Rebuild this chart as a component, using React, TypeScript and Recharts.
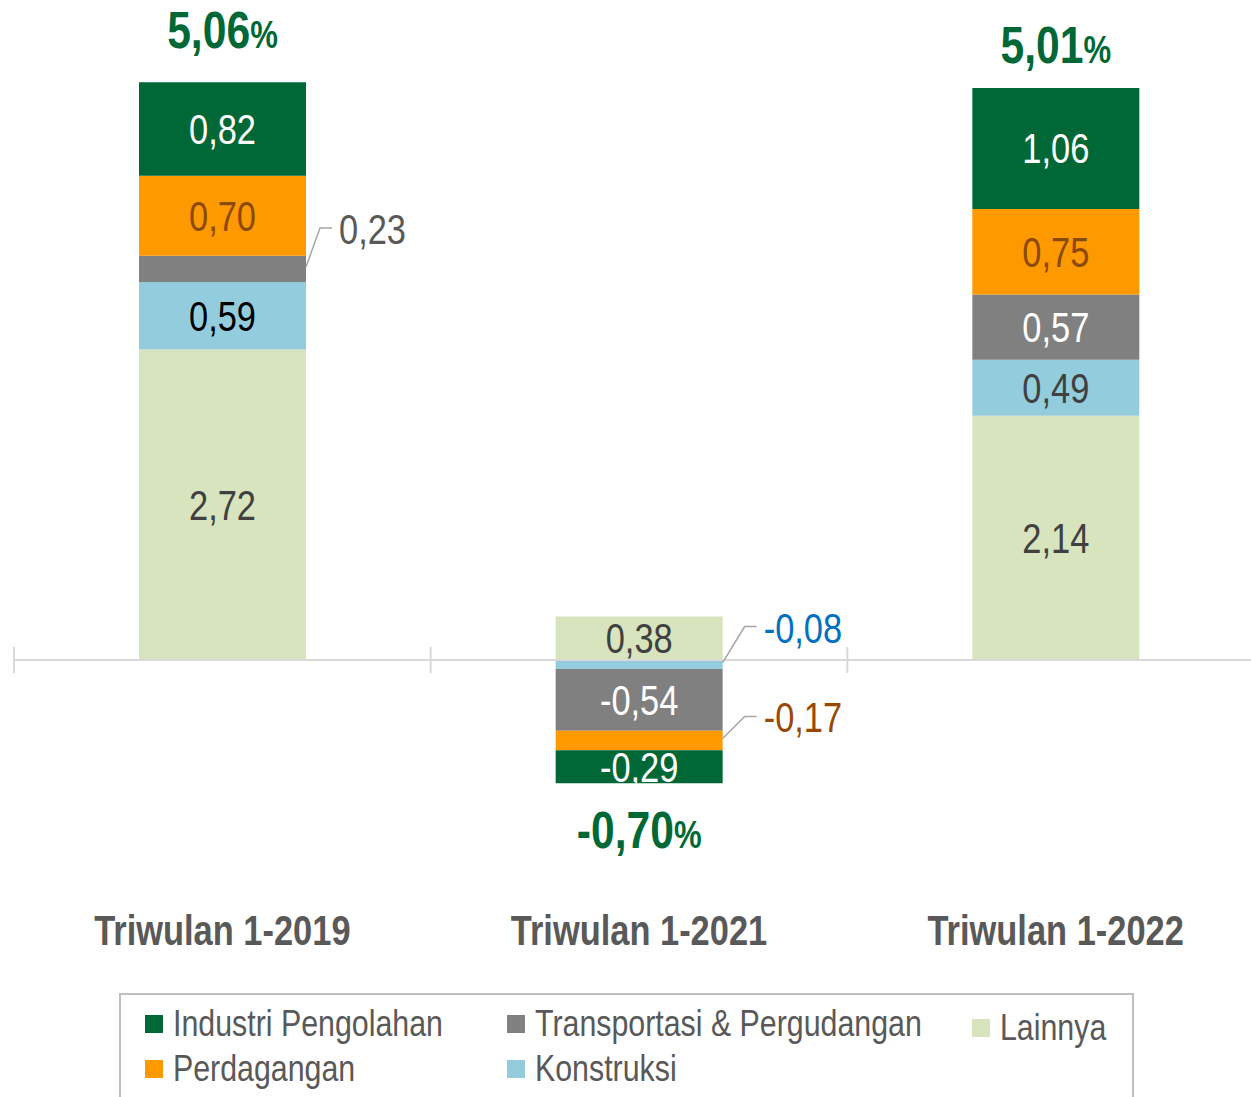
import React from 'react';
import { BarChart, Bar, XAxis, YAxis, ReferenceLine, LabelList, Legend } from 'recharts';

const categories = ['Triwulan 1-2019', 'Triwulan 1-2021', 'Triwulan 1-2022'];
const industriPengolahan = [0.82, -0.29, 1.06];
const perdagangan = [0.7, -0.17, 0.75];
const transportasi = [0.23, -0.54, 0.57];
const konstruksi = [0.59, -0.08, 0.49];
const lainnya = [2.72, 0.38, 2.14];
const totals = [5.06, -0.7, 5.01];

// Arial Narrow look: Liberation Sans squeezed horizontally
const FONT = '"Liberation Sans", Arial, sans-serif';
const NARROW = 0.82;

type Callout = { dy: number; dx: number };

type Series = {
  key: string;
  name: string;
  values: number[];
  color: string;
  labelColor: string[];
  outside?: Record<number, Callout>;
};

// drawn bottom-up (closest to zero first)
const series: Series[] = [
  { key: 'lainnya', name: 'Lainnya', values: lainnya, color: '#d7e4bd', labelColor: ['#404040', '#404040', '#404040'] },
  {
    key: 'konstruksi',
    name: 'Konstruksi',
    values: konstruksi,
    color: '#93cddd',
    labelColor: ['#000000', '#0070c0', '#404040'],
    outside: { 1: { dy: -36, dx: 22 } },
  },
  {
    key: 'transportasi',
    name: 'Transportasi & Pergudangan',
    values: transportasi,
    color: '#808080',
    labelColor: ['#595959', '#ffffff', '#ffffff'],
    outside: { 0: { dy: -39, dx: 14 } },
  },
  {
    key: 'perdagangan',
    name: 'Perdagangan',
    values: perdagangan,
    color: '#ff9900',
    labelColor: ['#8a4a0c', '#984807', '#8a4a0c'],
    outside: { 1: { dy: -22, dx: 22 } },
  },
  { key: 'industri', name: 'Industri Pengolahan', values: industriPengolahan, color: '#006837', labelColor: ['#ffffff', '#ffffff', '#ffffff'] },
];

const legendOrder = ['industri', 'perdagangan', 'transportasi', 'konstruksi', 'lainnya'];
const totalShift = [-52, 47, -43];

const data = categories.map((c, i) => {
  const row: Record<string, string | number> = { category: c };
  series.forEach((s) => (row[s.key] = s.values[i]));
  return row;
});

const fmt = (v: number) => v.toFixed(2).replace('.', ',');

const NarrowText = ({ x, y, children, ...rest }: any) => (
  <text transform={`translate(${x} ${y}) scale(${NARROW} 1)`} x={0} y={0} fontFamily={FONT} {...rest}>
    {children}
  </text>
);

const box = (props: any) => {
  const vb = props.viewBox ?? {};
  const x = props.x ?? vb.x;
  const y = props.y ?? vb.y;
  const width = props.width ?? vb.width;
  const height = props.height ?? vb.height;
  return { x, width, top: Math.min(y, y + height), h: Math.abs(height) };
};

const segmentLabel = (s: Series) => (props: any) => {
  const { index } = props;
  const { x, width, top, h } = box(props);
  const text = fmt(s.values[index]);
  const color = s.labelColor[index];
  const call = s.outside?.[index];
  if (call) {
    const x0 = x + width;
    const y0 = top + h / 2 - 2;
    const ly = y0 + call.dy;
    return (
      <g>
        <polyline
          points={`${x0},${y0} ${x0 + call.dx},${ly} ${x0 + call.dx + 12},${ly}`}
          fill="none"
          stroke="#a6a6a6"
          strokeWidth={1.5}
        />
        <NarrowText x={x0 + call.dx + 19} y={ly + 16} fill={color} fontSize={42}>
          {text}
        </NarrowText>
      </g>
    );
  }
  return (
    <svg x={x} y={top} width={width} height={h} overflow="hidden">
      <NarrowText x={width / 2} y={h / 2 + 15} textAnchor="middle" fill={color} fontSize={42}>
        {text}
      </NarrowText>
    </svg>
  );
};

const totalLabel = (props: any) => {
  const { index } = props;
  const { x, width, top, h } = box(props);
  const v = totals[index];
  const cy = v >= 0 ? top + totalShift[index] : top + h + totalShift[index];
  return (
    <NarrowText x={x + width / 2} y={cy + 18} textAnchor="middle" fill="#006837" fontWeight="bold">
      <tspan fontSize={52}>{fmt(v)}</tspan>
      <tspan fontSize={38}>%</tspan>
    </NarrowText>
  );
};

const CategoryTick = (props: any) => {
  const { x, y, payload } = props;
  return (
    <NarrowText x={x} y={y + 140} textAnchor="middle" fill="#595959" fontSize={42} fontWeight="bold">
      {payload.value}
    </NarrowText>
  );
};

const ZeroAxis = (props: any) => {
  const { x1, x2, y1 } = props;
  const band = (x2 - x1) / categories.length;
  const ticks = Array.from({ length: categories.length + 1 }, (_, i) => x1 + i * band);
  return (
    <g stroke="#d9d9d9" strokeWidth={2}>
      <line x1={x1} x2={x2} y1={y1} y2={y1} />
      {ticks.map((t) => (
        <line key={t} x1={t} x2={t} y1={y1 - 13} y2={y1 + 13} />
      ))}
    </g>
  );
};

const LegendBox = () => {
  const byKey = Object.fromEntries(series.map((s) => [s.key, s]));
  const cols = [24, 386, 851];
  const rows = [29, 74];
  return (
    <div
      style={{
        position: 'relative',
        width: 1015,
        height: 130,
        border: '2px solid #bfbfbf',
        boxSizing: 'border-box',
        fontFamily: FONT,
        color: '#595959',
      }}
    >
      {legendOrder.map((k, i) => {
        const s = byKey[k];
        const col = Math.floor(i / 2);
        const row = i % 2;
        return (
          <div
            key={k}
            style={{
              position: 'absolute',
              left: cols[col],
              top: rows[row] - 22 + (col === 2 ? 4 : 0),
              height: 44,
              display: 'flex',
              alignItems: 'center',
              whiteSpace: 'nowrap',
            }}
          >
            <span style={{ width: 18, height: 18, background: s.color, display: 'inline-block', marginRight: 10 }} />
            <span
              style={{
                fontSize: 37,
                lineHeight: '44px',
                display: 'inline-block',
                transform: `scaleX(${NARROW})`,
                transformOrigin: 'left center',
              }}
            >
              {s.name}
            </span>
          </div>
        );
      })}
    </div>
  );
};

export default function App() {
  return (
    <div style={{ position: 'absolute', left: 0, top: 0, width: 1251, height: 1097, overflow: 'hidden', background: '#fff' }}>
      <BarChart
        width={1280}
        height={1097}
        data={data}
        stackOffset="sign"
        barCategoryGap="30%"
        margin={{ top: 32, right: 16, bottom: 240, left: 14 }}
      >
        <XAxis dataKey="category" axisLine={false} tickLine={false} height={60} tick={<CategoryTick />} interval={0} />
        <YAxis hide type="number" domain={[-1.2, 5.5]} allowDataOverflow />
        <ReferenceLine y={0} shape={<ZeroAxis />} />
        {series.map((s) => (
          <Bar key={s.key} dataKey={s.key} name={s.name} stackId="a" fill={s.color} isAnimationActive={false}>
            <LabelList dataKey={s.key} content={segmentLabel(s)} />
            {s.key === 'industri' && <LabelList dataKey={s.key} content={totalLabel} />}
          </Bar>
        ))}
        <Legend
          verticalAlign="middle"
          layout="horizontal"
          wrapperStyle={{ left: 119, top: 993, width: 1015, height: 130 }}
          content={() => <LegendBox />}
        />
      </BarChart>
    </div>
  );
}
